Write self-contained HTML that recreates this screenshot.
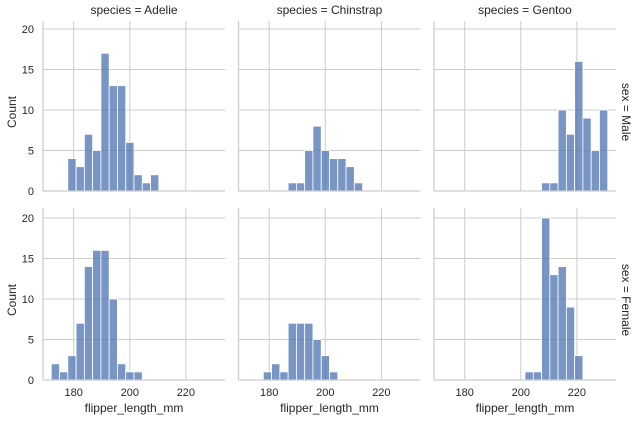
<!DOCTYPE html>
<html><head><meta charset="utf-8"><style>
body{margin:0;background:#fff;}
svg text{font-family:"Liberation Sans",sans-serif;fill:#262626;}
</style></head><body>
<svg id="chart" width="636" height="420" xmlns="http://www.w3.org/2000/svg"></svg>
<script>
const species = ["Adelie","Chinstrap","Gentoo"];
const sexes = ["Male","Female"];
const binStart = 172, binWidth = 2.95;
const xTicks = [180,200,220];
const yTicks = [0,5,10,15,20];
// counts keyed by bin index
const adelieMale = {2:4,3:3,4:7,5:5,6:17,7:13,8:13,9:6,10:2,11:1,12:2};
const adelieFemale = {0:2,1:1,2:3,3:7,4:14,5:16,6:16,7:10,8:2,9:1,10:1};
const chinstrapMale = {5:1,6:1,7:5,8:8,9:5,10:4,11:4,12:3,13:1};
const chinstrapFemale = {2:1,3:2,4:1,5:7,6:7,7:7,8:5,9:3,10:1};
const gentooMale = {12:1,13:1,14:10,15:7,16:16,17:9,18:5,19:10};
const gentooFemale = {10:1,11:1,12:20,13:13,14:14,15:9,16:3};

const data = [[adelieMale,chinstrapMale,gentooMale],[adelieFemale,chinstrapFemale,gentooFemale]];
const svg = document.getElementById('chart');
const NS = "http://www.w3.org/2000/svg";
function mk(tag, attrs, parent){const e=document.createElementNS(NS,tag);for(const k in attrs)e.setAttribute(k,attrs[k]);(parent||svg).appendChild(e);return e;}
const lefts=[43,238.5,434], W=182;
const bottoms=[191,380], tops=[21,208];
const xmin=169.05, xmax=233.95, ymax=20, yPxAt20=162;
for(let r=0;r<2;r++){
  for(let c=0;c<3;c++){
    const L=lefts[c], B=bottoms[r];
    const xs=v=>L+(v-xmin)/(xmax-xmin)*W;
    const ys=v=>B-v/ymax*yPxAt20;
    const g=mk('g',{});
    
    
    yTicks.forEach(t=>{ if(t>0){const l=mk('line',{x1:L,x2:L+W,y1:ys(t),y2:ys(t),stroke:'#cccccc','stroke-width':1},g);
      }
      if(c===0){const tx=mk('text',{x:L-9,y:ys(t)+4,'text-anchor':'end','font-size':11},g);tx.textContent=t;
      }});
    xTicks.forEach(t=>{const l=mk('line',{x1:xs(t),x2:xs(t),y1:tops[r],y2:B,stroke:'#cccccc','stroke-width':1},g);
      
      if(r===1){const tx=mk('text',{x:xs(t),y:B+16,'text-anchor':'middle','font-size':11},g);tx.textContent=t;
      }});
    const d=data[r][c];
    for(const k in d){
      const x0=binStart+k*binWidth, v=d[k];
      const b=mk('rect',{x:xs(x0),y:ys(v),width:xs(x0+binWidth)-xs(x0),height:B-ys(v),fill:'rgba(76,114,176,0.75)',stroke:'#ffffff','stroke-width':0.8},g);
      
      
    }
    const sp1=mk('line',{x1:L,x2:L,y1:tops[r],y2:B,stroke:'#cccccc','stroke-width':1.25},g);
    
    const sp2=mk('line',{x1:L,x2:L+W,y1:B,y2:B,stroke:'#cccccc','stroke-width':1.25},g);
    
    if(r===0){const t=mk('text',{x:L+W/2,y:14,'text-anchor':'middle','font-size':12},g);t.textContent='species = '+species[c];
      }
    if(r===1){const t=mk('text',{x:L+W/2,y:412,'text-anchor':'middle','font-size':12},g);t.textContent='flipper_length_mm';
      }
    if(c===0){const cy=(tops[r]+B)/2+6;const t=mk('text',{x:16,y:cy,'text-anchor':'middle','font-size':12,transform:'rotate(-90 16 '+cy+')'},g);t.textContent='Count';
      }
    if(c===2){const cy=(tops[r]+B)/2+6;const t=mk('text',{x:622,y:cy,'text-anchor':'middle','font-size':12,transform:'rotate(90 622 '+cy+')'},g);t.textContent='sex = '+sexes[r];
      }
  }
}
</script>
</body></html>
